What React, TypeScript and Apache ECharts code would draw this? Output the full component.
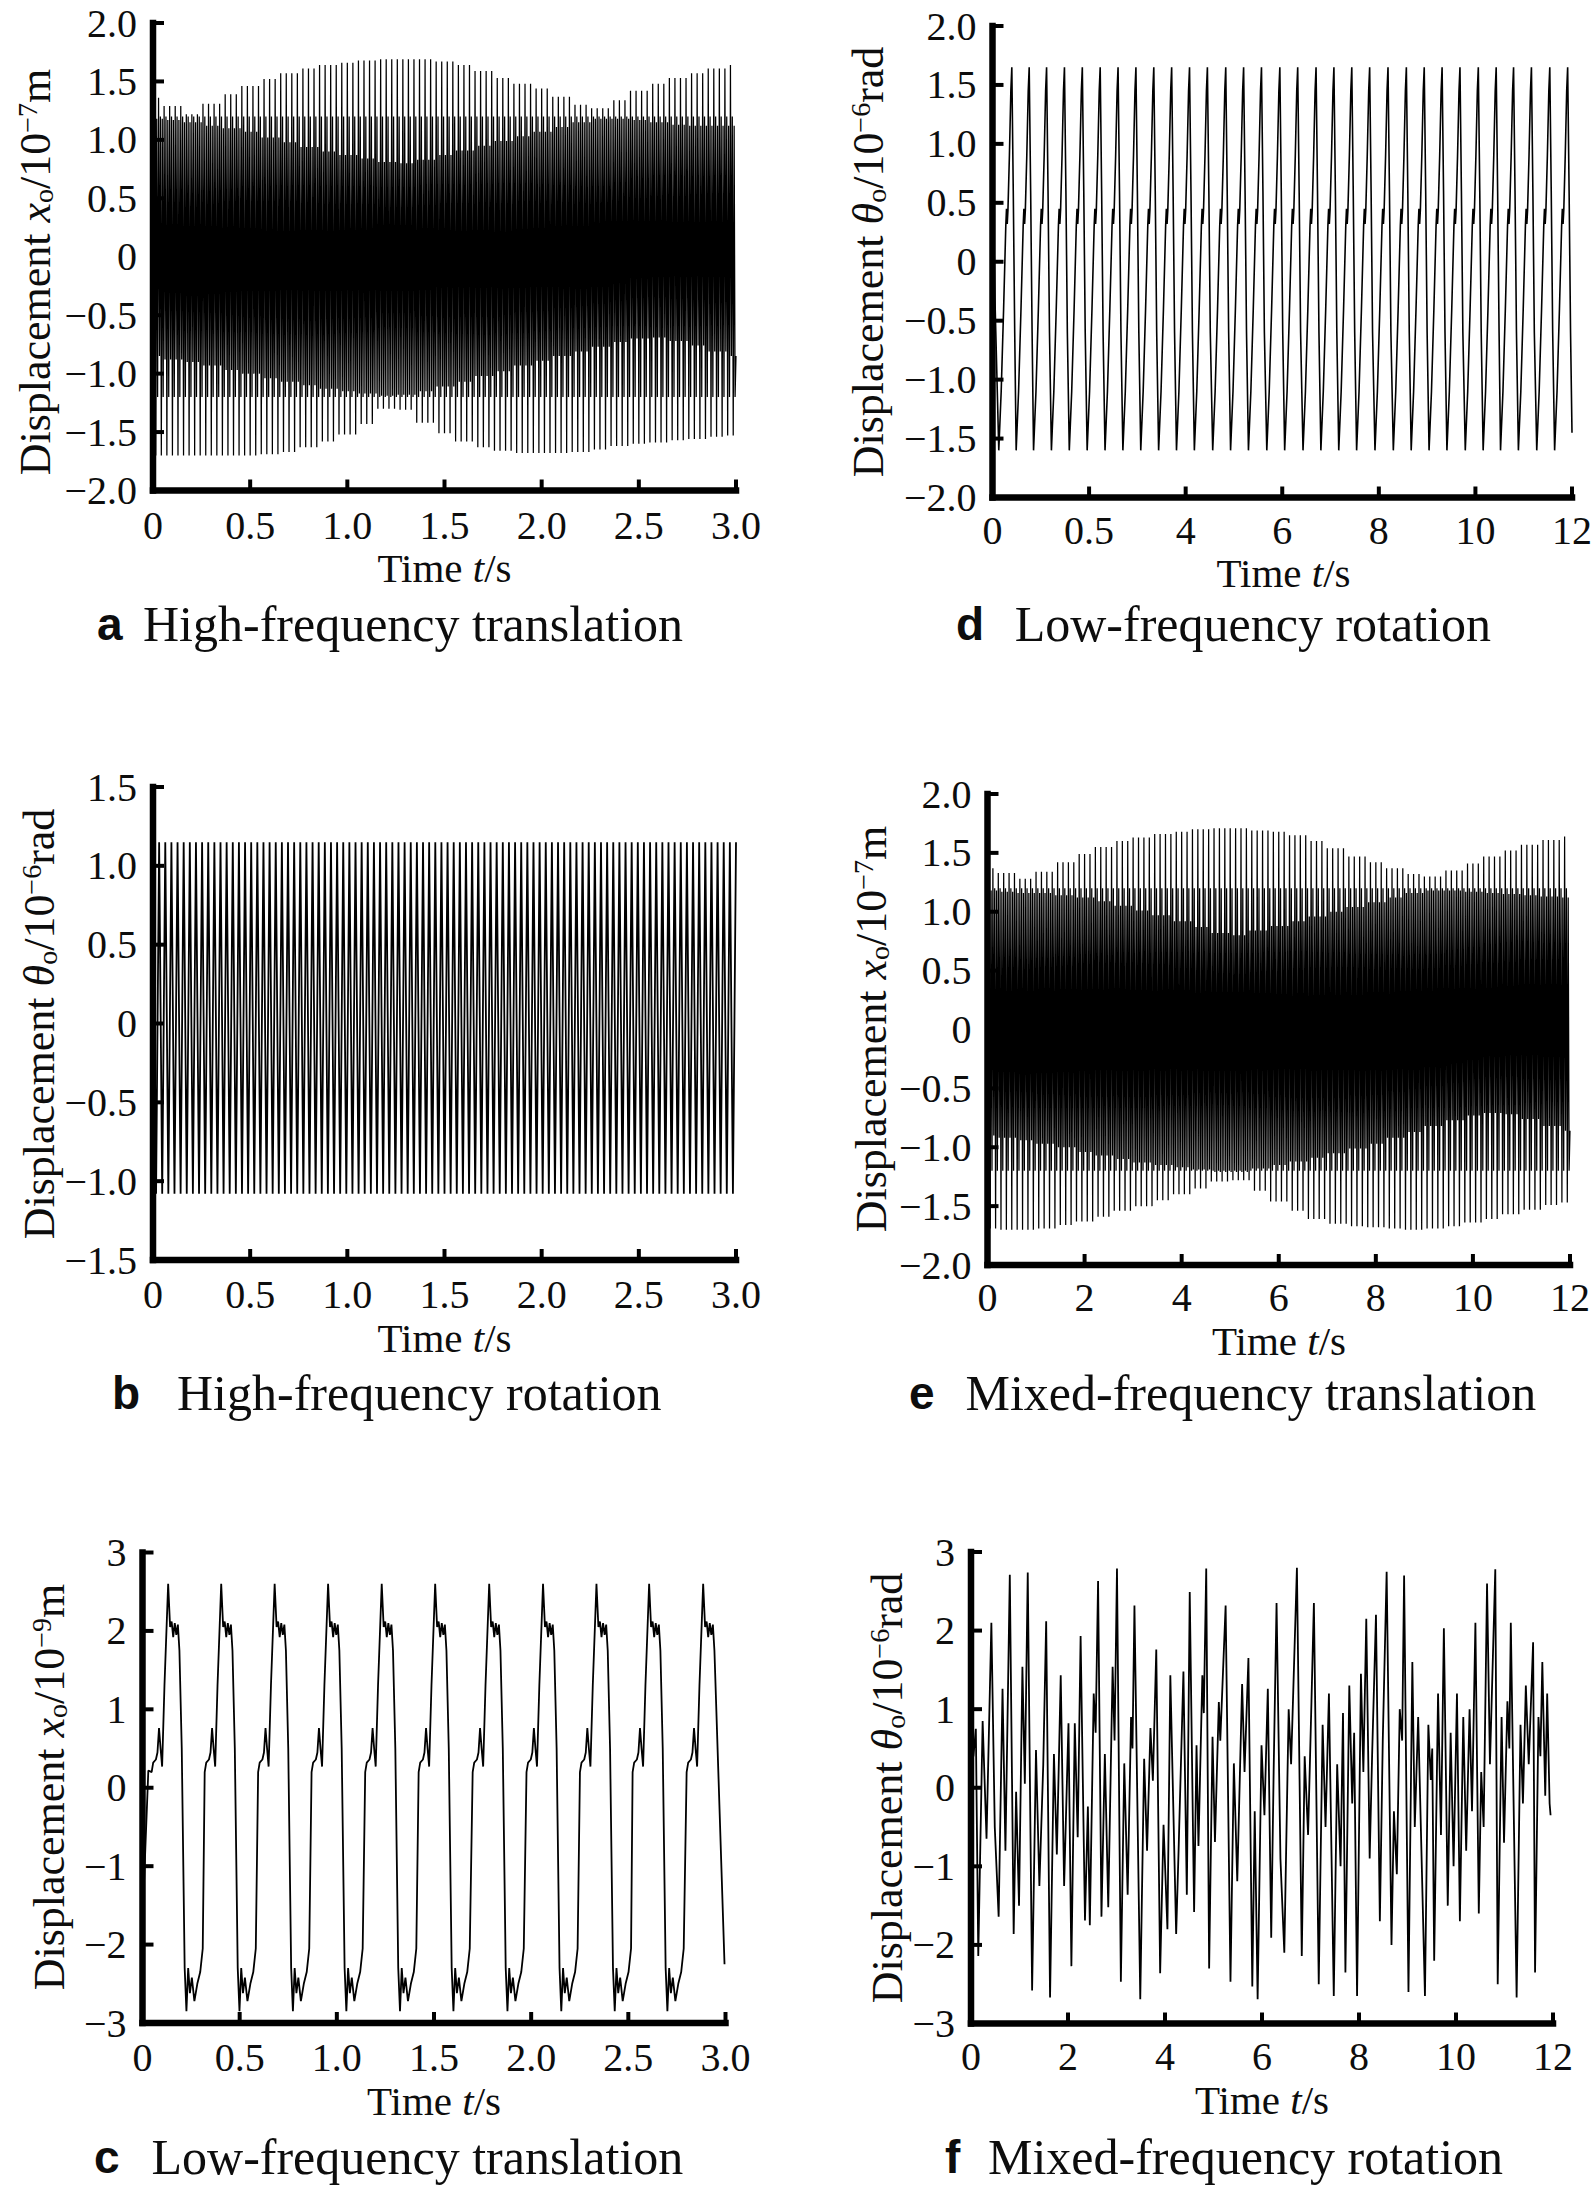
import React, { useEffect, useRef } from "react";
import * as echarts from "echarts";

const W = 1595;
const H = 2187;
const SERIF = "'Liberation Serif', 'Times New Roman', Times, serif";
const SANS = "'Liberation Sans', Arial, Helvetica, sans-serif";
const INK = "#0d0d0d";

// ---------------- tick labels ----------------
const xLabels3s = ["0", "0.5", "1.0", "1.5", "2.0", "2.5", "3.0"];
const xLabelsD = ["0", "0.5", "4", "6", "8", "10", "12"];
const xLabels12s = ["0", "2", "4", "6", "8", "10", "12"];
const yLabels2 = ["−2.0", "−1.5", "−1.0", "−0.5", "0", "0.5", "1.0", "1.5", "2.0"];
const yLabels15 = ["−1.5", "−1.0", "−0.5", "0", "0.5", "1.0", "1.5"];
const yLabels3 = ["−3", "−2", "−1", "0", "1", "2", "3"];

// ---------------- panel a: high-frequency translation (envelopes read every 0.1 s) ----------------
const aEnvStep = 0.1;
const aUpperOuter = [1.36, 1.29, 1.22, 1.31, 1.39, 1.46, 1.52, 1.57, 1.61, 1.64, 1.66, 1.68, 1.69, 1.69, 1.69, 1.67, 1.64, 1.59, 1.53, 1.48, 1.44, 1.37, 1.3, 1.27, 1.34, 1.42, 1.48, 1.53, 1.57, 1.61, 1.64];
const aCoreTop = [1.18, 1.17, 1.15, 1.12, 1.1, 1.07, 1.02, 0.98, 0.94, 0.9, 0.87, 0.84, 0.81, 0.8, 0.83, 0.87, 0.91, 0.95, 0.99, 1.03, 1.07, 1.11, 1.15, 1.18, 1.18, 1.17, 1.15, 1.13, 1.12, 1.12, 1.12];
const aCoreBottom = [-0.85, -0.88, -0.9, -0.93, -0.97, -1.0, -1.04, -1.07, -1.1, -1.13, -1.15, -1.17, -1.19, -1.18, -1.15, -1.11, -1.07, -1.02, -0.98, -0.93, -0.89, -0.85, -0.81, -0.77, -0.73, -0.7, -0.69, -0.72, -0.76, -0.81, -0.85];
const aLowerOuter = [-1.7, -1.7, -1.7, -1.7, -1.7, -1.7, -1.69, -1.67, -1.63, -1.58, -1.52, -1.43, -1.3, -1.31, -1.42, -1.51, -1.58, -1.63, -1.66, -1.68, -1.68, -1.68, -1.67, -1.65, -1.62, -1.6, -1.59, -1.57, -1.56, -1.54, -1.53];
const aBand = [1.2, -1.2];
const aSpikeCount = 105;
const aEnd = 3.0;

// ---------------- panel b: high-frequency rotation ----------------
const bPeak = 1.15;
const bTrough = -1.08;
const bCycleCount = 95;
const bEnd = 3.0;

// ---------------- panel c: low-frequency translation ----------------
const cPeakTimes = [0.132, 0.405, 0.68, 0.955, 1.231, 1.506, 1.784, 2.061, 2.336, 2.607, 2.885];
const cShapeOffset = [-0.085, -0.077, -0.063, -0.055, -0.047, -0.039, -0.031, -0.019, 0, 0.01, 0.018, 0.026, 0.034, 0.042, 0.05, 0.058, 0.07, 0.085, 0.094, 0.103, 0.112, 0.122, 0.135, 0.15, 0.165, 0.178];
const cShapeValue = [0.2, 0.32, 0.36, 0.45, 0.76, 0.5, 0.27, 1.3, 2.6, 2.05, 2.12, 1.92, 2.1, 1.95, 2.08, 1.75, 0.5, -2.3, -2.85, -2.3, -2.62, -2.42, -2.72, -2.5, -2.35, -2.05];
const cLeadTime = [0, 0.008, 0.03];
const cLeadValue = [0.0, -1.2, 0.22];
const cCut = 2.945;
const cTailTime = [2.995];
const cTailValue = [-2.25];

// ---------------- panel d: low-frequency rotation ----------------
const dPeakTimes = [0.4, 0.76, 1.12, 1.49, 1.86, 2.23, 2.6, 2.97, 3.34, 3.71, 4.08, 4.45, 4.83, 5.2, 5.57, 5.95, 6.32, 6.7, 7.07, 7.44, 7.81, 8.19, 8.57, 8.94, 9.31, 9.68, 10.06, 10.43, 10.79, 11.16, 11.54, 11.91];
const dShapeOffset = [-0.27, -0.22, -0.17, -0.125, -0.11, -0.095, -0.08, -0.05, -0.02, 0, 0.03, 0.06];
const dShapeValue = [-1.6, -1.1, -0.4, 0.3, 0.45, 0.32, 0.44, 0.9, 1.45, 1.65, 0.6, -0.6];
const dLeadTime = [0, 0.05];
const dLeadValue = [0.95, -0.3];
const dCut = 11.98;
const dTailTime = [12.0];
const dTailValue = [-1.45];

// ---------------- panel e: mixed-frequency translation (envelopes read every 0.4 s) ----------------
const eEnvStep = 0.4;
const eUpperOuter = [1.37, 1.33, 1.28, 1.34, 1.42, 1.49, 1.55, 1.6, 1.63, 1.66, 1.68, 1.7, 1.71, 1.71, 1.69, 1.68, 1.65, 1.6, 1.54, 1.47, 1.42, 1.37, 1.32, 1.3, 1.35, 1.41, 1.47, 1.52, 1.57, 1.61, 1.64];
const eCoreTop = [1.18, 1.17, 1.16, 1.16, 1.14, 1.12, 1.09, 1.05, 1.01, 0.97, 0.92, 0.87, 0.82, 0.8, 0.84, 0.88, 0.92, 0.96, 1.0, 1.04, 1.08, 1.12, 1.16, 1.18, 1.18, 1.17, 1.16, 1.15, 1.14, 1.13, 1.12];
const eCoreBottom = [-0.9, -0.92, -0.94, -0.97, -1.0, -1.04, -1.07, -1.1, -1.13, -1.15, -1.17, -1.19, -1.21, -1.21, -1.18, -1.15, -1.12, -1.09, -1.05, -1.01, -0.97, -0.92, -0.87, -0.82, -0.77, -0.73, -0.71, -0.72, -0.76, -0.82, -0.86];
const eLowerOuter = [-1.69, -1.7, -1.7, -1.69, -1.66, -1.63, -1.59, -1.54, -1.5, -1.45, -1.4, -1.35, -1.29, -1.28, -1.37, -1.46, -1.54, -1.61, -1.65, -1.67, -1.68, -1.69, -1.7, -1.69, -1.67, -1.64, -1.61, -1.57, -1.53, -1.49, -1.47];
const eBand = [1.2, -1.2];
const eSpikeCount = 108;
const eEnd = 12.0;

// ---------------- panel f: mixed-frequency rotation (turning points) ----------------
const fTime = [0, 0.05, 0.1, 0.15, 0.24, 0.32, 0.42, 0.49, 0.57, 0.65, 0.71, 0.8, 0.88, 0.93, 0.99, 1.06, 1.11, 1.17, 1.26, 1.34, 1.41, 1.49, 1.55, 1.63, 1.71, 1.77, 1.85, 1.92, 2.01, 2.07, 2.14, 2.2, 2.26, 2.35, 2.41, 2.45, 2.53, 2.57, 2.62, 2.69, 2.76, 2.83, 2.92, 2.96, 3.01, 3.09, 3.16, 3.23, 3.3, 3.33, 3.37, 3.49, 3.57, 3.63, 3.7, 3.75, 3.82, 3.9, 3.97, 4.05, 4.11, 4.23, 4.28, 4.38, 4.45, 4.51, 4.6, 4.65, 4.69, 4.77, 4.8, 4.85, 4.91, 4.98, 5.03, 5.11, 5.14, 5.25, 5.35, 5.42, 5.49, 5.59, 5.64, 5.72, 5.8, 5.85, 5.91, 5.99, 6.05, 6.12, 6.19, 6.24, 6.3, 6.38, 6.46, 6.55, 6.6, 6.72, 6.82, 6.88, 6.95, 7.02, 7.07, 7.17, 7.25, 7.31, 7.38, 7.48, 7.55, 7.62, 7.67, 7.72, 7.8, 7.86, 7.9, 7.96, 8.04, 8.09, 8.15, 8.22, 8.27, 8.35, 8.43, 8.49, 8.57, 8.67, 8.72, 8.78, 8.84, 8.89, 8.93, 9.02, 9.1, 9.15, 9.22, 9.36, 9.43, 9.48, 9.51, 9.55, 9.63, 9.69, 9.75, 9.83, 9.89, 9.95, 10.02, 10.08, 10.15, 10.21, 10.28, 10.33, 10.4, 10.47, 10.52, 10.57, 10.64, 10.7, 10.81, 10.86, 10.94, 10.99, 11.06, 11.1, 11.13, 11.25, 11.33, 11.38, 11.44, 11.5, 11.59, 11.63, 11.7, 11.74, 11.78, 11.84, 11.88, 11.93, 11.95];
const fValue = [0.95, 0.4, 0.75, -2.14, 0.85, -0.65, 2.1, -0.5, -1.64, 1.26, -0.8, 2.71, -1.86, -0.05, -1.5, 1.54, 0.05, 2.74, -2.58, 0.48, -1.25, 0.3, 2.12, -2.67, 0.43, -0.85, 1.43, -1.25, 0.82, -2.27, 0.82, -0.63, 1.93, -1.69, -0.24, -1.75, 1.2, 0.7, 2.63, -1.64, 0.43, -1.52, 1.54, 0.6, 2.79, -2.47, 0.31, -1.36, 0.9, 0.5, 2.32, -2.69, 0.37, -0.8, 0.76, 0.09, 1.76, -2.36, -0.47, -1.8, 1.43, -1.86, -0.8, 1.48, -1.36, 2.49, -1.58, 0.54, -0.74, 1.43, 0.95, 2.79, -2.3, 0.65, -0.69, 1.09, 0.6, 2.32, -2.47, 0.31, -1.19, 1.32, 0.2, 1.65, -2.53, -0.3, -2.69, 0.54, -0.35, 1.26, -1.91, 0.2, 2.35, -0.9, -2.1, 1.0, 0.3, 2.8, -2.14, 0.4, -0.6, 1.1, 2.35, -2.5, 0.8, -0.5, 1.2, -2.65, 0.3, -1.0, 0.95, -2.35, 1.3, -0.2, 0.7, -2.65, 1.45, 0.2, 2.15, -0.9, 0.4, 2.2, -1.7, 0.6, 2.75, -2.0, -0.3, -1.1, 1.0, 0.6, 2.7, -2.6, 1.6, -0.5, 0.9, -2.65, 0.8, 0.1, 0.5, -2.2, 1.2, -0.6, 2.03, -1.5, 0.7, -1.0, 1.2, -1.7, 0.9, -0.8, 1.0, -0.3, 2.1, -1.6, 0.2, -0.5, 2.6, 0.3, 2.78, -2.5, 0.9, -0.7, 1.1, 0.5, 2.1, -2.67, 0.8, -0.2, 1.3, 0.3, 1.85, -2.35, 0.9, 0.4, 1.6, -0.1, 1.2, -0.2, -0.35];

// ---------------- builders ----------------
function pick(arr: number[], step: number, t: number): number {
  const i = Math.round(t / step);
  return arr[Math.max(0, Math.min(arr.length - 1, i))];
}

function buildDense(tEnd: number, count: number, step: number, upO: number[], coreT: number[], coreB: number[], loO: number[], band: number[]) {
  const P = tEnd / count;
  const pts: number[][] = [];
  for (let k = 0; k < count; k++) {
    const t0 = k * P;
    const ts = [0, 1, 2, 3, 4, 5].map((j) => t0 + (j * P) / 6);
    pts.push([ts[0], pick(upO, step, ts[0])]);
    pts.push([ts[1], pick(coreB, step, ts[1])]);
    pts.push([ts[2], band[0]]);
    pts.push([ts[3], pick(loO, step, ts[3])]);
    pts.push([ts[4], pick(coreT, step, ts[4])]);
    pts.push([ts[5], band[1]]);
  }
  pts.push([tEnd, pick(coreB, step, tEnd)]);
  return pts;
}

function buildZigzag(tEnd: number, count: number, hi: number, lo: number) {
  const P = tEnd / count;
  const pts: number[][] = [];
  for (let k = 0; k < count; k++) {
    pts.push([k * P, hi]);
    pts.push([k * P + P / 2, lo]);
  }
  pts.push([tEnd, hi]);
  return pts;
}

function buildTemplated(leadT: number[], leadV: number[], peaks: number[], offs: number[], vals: number[], cut: number, tailT: number[], tailV: number[]) {
  const pts: number[][] = leadT.map((t, i) => [t, leadV[i]]);
  let last = leadT[leadT.length - 1];
  peaks.forEach((tp) => {
    offs.forEach((o, j) => {
      const t = tp + o;
      if (t > last + 1e-6 && t <= cut) {
        pts.push([t, vals[j]]);
        last = t;
      }
    });
  });
  tailT.forEach((t, i) => pts.push([t, tailV[i]]));
  return pts;
}

const seriesA = buildDense(aEnd, aSpikeCount, aEnvStep, aUpperOuter, aCoreTop, aCoreBottom, aLowerOuter, aBand);
const seriesB = buildZigzag(bEnd, bCycleCount, bPeak, bTrough);
const seriesC = buildTemplated(cLeadTime, cLeadValue, cPeakTimes, cShapeOffset, cShapeValue, cCut, cTailTime, cTailValue);
const seriesD = buildTemplated(dLeadTime, dLeadValue, dPeakTimes, dShapeOffset, dShapeValue, dCut, dTailTime, dTailValue);
const seriesE = buildDense(eEnd, eSpikeCount, eEnvStep, eUpperOuter, eCoreTop, eCoreBottom, eLowerOuter, eBand);
const seriesF = fTime.map((t, i) => [t, fValue[i]]);

// ---------------- layout ----------------
type Panel = {
  grid: number[];
  xMax: number; xStep: number; xLabels: string[]; xMargin: number;
  yMin: number; yMax: number; yStep: number; yLabels: string[];
  data: number[][]; lw: number;
  yName: string; nameX: number; nameY: number;
  timeX: number; timeY: number;
  letter: string; caption: string; letterX: number; capX: number; capY: number;
};

const panels: Panel[] = [
  { grid: [153, 23, 583, 467.5], xMax: 3, xStep: 0.5, xLabels: xLabels3s, xMargin: 20, yMin: -2, yMax: 2, yStep: 0.5, yLabels: yLabels2, data: seriesA, lw: 1.25,
    yName: "{n|Displacement }{i|x}{sub|o}{n|/10}{sup|−7}{n|m}", nameX: 35, nameY: 272, timeX: 444.5, timeY: 568,
    letter: "a", caption: "High-frequency translation", letterX: 97, capX: 143, capY: 624 },
  { grid: [153, 787, 583, 473], xMax: 3, xStep: 0.5, xLabels: xLabels3s, xMargin: 19, yMin: -1.5, yMax: 1.5, yStep: 0.5, yLabels: yLabels15, data: seriesB, lw: 1.8,
    yName: "{n|Displacement }{i|θ}{sub|o}{n|/10}{sup|−6}{n|rad}", nameX: 39, nameY: 1024, timeX: 444.5, timeY: 1338,
    letter: "b", caption: "High-frequency rotation", letterX: 112, capX: 177, capY: 1393 },
  { grid: [142.5, 1552.5, 583, 470.5], xMax: 3, xStep: 0.5, xLabels: xLabels3s, xMargin: 19, yMin: -3, yMax: 3, yStep: 1, yLabels: yLabels3, data: seriesC, lw: 1.8,
    yName: "{n|Displacement }{i|x}{sub|o}{n|/10}{sup|−9}{n|m}", nameX: 49, nameY: 1787, timeX: 434, timeY: 2101,
    letter: "c", caption: "Low-frequency translation", letterX: 94, capX: 151.5, capY: 2157 },
  { grid: [992.5, 26, 582, 471.5], xMax: 12, xStep: 2, xLabels: xLabelsD, xMargin: 18, yMin: -2, yMax: 2, yStep: 0.5, yLabels: yLabels2, data: seriesD, lw: 1.6,
    yName: "{n|Displacement }{i|θ}{sub|o}{n|/10}{sup|−6}{n|rad}", nameX: 868, nameY: 262, timeX: 1283.5, timeY: 573,
    letter: "d", caption: "Low-frequency rotation", letterX: 956, capX: 1014.7, capY: 624 },
  { grid: [987.5, 794, 582.5, 471], xMax: 12, xStep: 2, xLabels: xLabels12s, xMargin: 17, yMin: -2, yMax: 2, yStep: 0.5, yLabels: yLabels2, data: seriesE, lw: 1.25,
    yName: "{n|Displacement }{i|x}{sub|o}{n|/10}{sup|−7}{n|m}", nameX: 871, nameY: 1029, timeX: 1279, timeY: 1341,
    letter: "e", caption: "Mixed-frequency translation", letterX: 909, capX: 965.5, capY: 1393 },
  { grid: [971, 1552, 582, 471.5], xMax: 12, xStep: 2, xLabels: xLabels12s, xMargin: 18, yMin: -3, yMax: 3, yStep: 1, yLabels: yLabels3, data: seriesF, lw: 1.8,
    yName: "{n|Displacement }{i|θ}{sub|o}{n|/10}{sup|−6}{n|rad}", nameX: 887, nameY: 1788, timeX: 1262, timeY: 2100,
    letter: "f", caption: "Mixed-frequency rotation", letterX: 945, capX: 988, capY: 2157 },
];

const nameRich = {
  n: { fontFamily: SERIF, fontSize: 44, lineHeight: 44, fill: INK },
  i: { fontFamily: SERIF, fontSize: 44, fontStyle: "italic", lineHeight: 44, fill: INK },
  sub: { fontFamily: SERIF, fontSize: 28, lineHeight: 26, verticalAlign: "bottom", fill: INK },
  sup: { fontFamily: SERIF, fontSize: 28, lineHeight: 26, verticalAlign: "top", fill: INK },
};
const timeRich = {
  n: { fontFamily: SERIF, fontSize: 41, lineHeight: 32, fill: INK },
  i: { fontFamily: SERIF, fontSize: 41, fontStyle: "italic", lineHeight: 32, fill: INK },
};

const fmt = (labels: string[], min: number, step: number) => (v: number) => {
  const s = labels[Math.round((v - min) / step)];
  return s === undefined ? "" : s;
};

function textGraphics() {
  const graphic: any[] = [];
  panels.forEach((p, i) => {
    graphic.push({ id: `name${i}`, type: "text", x: p.nameX, y: p.nameY, rotation: Math.PI / 2, silent: true, z: 50,
      style: { text: p.yName, rich: nameRich, align: "center", verticalAlign: "middle", fill: INK } });
    graphic.push({ id: `time${i}`, type: "text", x: p.timeX, y: p.timeY, silent: true, z: 50,
      style: { text: "{n|Time }{i|t}{n|/s}", rich: timeRich, align: "center", verticalAlign: "middle", fill: INK } });
    graphic.push({ id: `let${i}`, type: "text", x: p.letterX, y: p.capY, silent: true, z: 50,
      style: { text: p.letter, fontFamily: SANS, fontWeight: "bold", fontSize: 46, fill: INK, align: "left", verticalAlign: "middle" } });
    graphic.push({ id: `cap${i}`, type: "text", x: p.capX, y: p.capY, silent: true, z: 50,
      style: { text: p.caption, fontFamily: SERIF, fontSize: 50, fill: INK, align: "left", verticalAlign: "middle" } });
  });
  return graphic;
}

function buildOption() {
  return {
    animation: false,
    backgroundColor: "#fff",
    textStyle: { fontFamily: SERIF },
    grid: panels.map((p) => ({ left: p.grid[0], top: p.grid[1], width: p.grid[2], height: p.grid[3], containLabel: false, show: false })),
    xAxis: panels.map((p, i) => ({
      type: "value", gridIndex: i, min: 0, max: p.xMax, interval: p.xStep,
      axisLine: { show: false, onZero: false }, axisTick: { show: false }, splitLine: { show: false },
      axisLabel: { margin: p.xMargin, fontSize: 40, lineHeight: 30, fontFamily: SERIF, color: INK, formatter: fmt(p.xLabels, 0, p.xStep) },
    })),
    yAxis: panels.map((p, i) => ({
      type: "value", gridIndex: i, min: p.yMin, max: p.yMax, interval: p.yStep,
      axisLine: { show: false, onZero: false }, axisTick: { show: false }, splitLine: { show: false },
      axisLabel: { margin: 16, fontSize: 40, lineHeight: 30, fontFamily: SERIF, color: INK, formatter: fmt(p.yLabels, p.yMin, p.yStep) },
    })),
    series: panels.map((p, i) => ({
      type: "line", xAxisIndex: i, yAxisIndex: i, data: p.data, showSymbol: false, symbol: "none",
      silent: true, lineStyle: { color: "#000", width: p.lw }, emphasis: { disabled: true },
    })),
    graphic: textGraphics(),
  };
}

export default function App() {
  const ref = useRef<HTMLDivElement | null>(null);
  useEffect(() => {
    if (!ref.current) return;
    const chart = echarts.init(ref.current, null, { renderer: "svg", width: W, height: H });
    chart.setOption(buildOption() as any);
    // axis lines and inward ticks, placed through each grid's own scales
    const decor: any[] = [];
    panels.forEach((p, i) => {
      const px = (x: number, y: number) => chart.convertToPixel({ gridIndex: i } as any, [x, y]) as number[];
      const o = px(0, p.yMin);
      const xe = px(p.xMax, p.yMin);
      const ye = px(0, p.yMax);
      const lineStyle = { stroke: "#000", lineWidth: 6.5, lineCap: "square" };
      decor.push({ id: `xl${i}`, type: "line", silent: true, z: 100, shape: { x1: o[0], y1: o[1], x2: xe[0], y2: xe[1] }, style: lineStyle });
      decor.push({ id: `yl${i}`, type: "line", silent: true, z: 100, shape: { x1: o[0], y1: o[1], x2: ye[0], y2: ye[1] }, style: lineStyle });
      const nx = Math.round(p.xMax / p.xStep);
      for (let k = 1; k <= nx; k++) {
        const q = px(k * p.xStep, p.yMin);
        decor.push({ id: `xt${i}_${k}`, type: "line", silent: true, z: 100, shape: { x1: q[0], y1: q[1], x2: q[0], y2: q[1] - 11 }, style: { stroke: "#000", lineWidth: 4 } });
      }
      const ny = Math.round((p.yMax - p.yMin) / p.yStep);
      for (let k = 1; k <= ny; k++) {
        const q = px(0, p.yMin + k * p.yStep);
        decor.push({ id: `yt${i}_${k}`, type: "line", silent: true, z: 100, shape: { x1: q[0], y1: q[1], x2: q[0] + 11, y2: q[1] }, style: { stroke: "#000", lineWidth: 4 } });
      }
    });
    chart.setOption({ graphic: [...textGraphics(), ...decor] } as any);
    return () => chart.dispose();
  }, []);
  return <div ref={ref} style={{ position: "absolute", left: 0, top: 0, width: W, height: H, background: "#fff" }} />;
}
